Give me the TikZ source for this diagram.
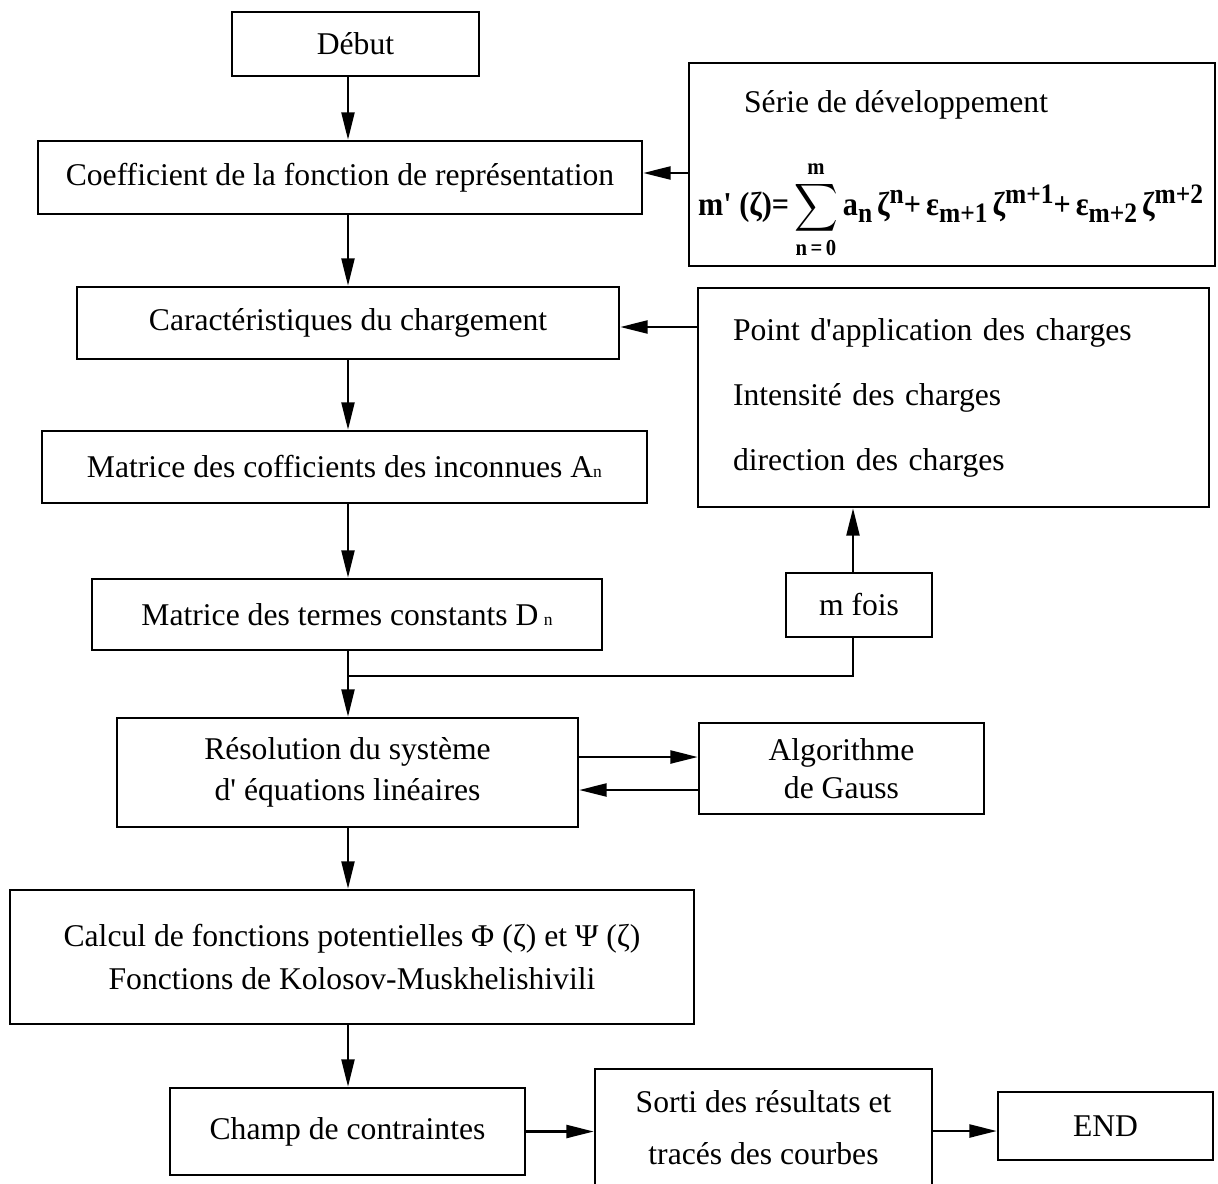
\documentclass[tikz,border=0pt]{standalone}
\usepackage{amsmath,amssymb}
\usepackage{graphicx}
\usepackage{fontspec}
\setmainfont{Liberation Serif}[Ligatures=TeXOff]
\DeclareMathSizes{19}{19}{13}{10}
\usepackage{tikz}
\usetikzlibrary{arrows.meta,positioning,calc}

% raised and lowered indices of the series, nearly full size as in the drawing
\newcommand\fup[1]{\raisebox{7pt}{\fontsize{16}{16}\selectfont #1}}
\newcommand\fdn[1]{\raisebox{-4pt}{\fontsize{16}{16}\selectfont #1}}

\begin{document}
\begin{tikzpicture}[
  box/.style={draw, line width=1.4pt, align=center, inner sep=2pt, font=\fontsize{18}{23}\selectfont},
  flow/.style={line width=1.4pt, -{Triangle[length=5.5mm, width=2.6mm]}},
  link/.style={line width=1.4pt}
]
  \useasboundingbox (0,0) rectangle (24.36,-23.66);
  \coordinate (spine) at (6.96,0);

  % main column
  \node[box, minimum width=4.94cm, minimum height=1.28cm] (debut) at (7.11,-0.88) {Début};
  \node[box, minimum width=12.08cm, minimum height=1.46cm] (coef) at (6.80,-3.55) {Coefficient de la fonction de représentation};
  \node[box, minimum width=10.84cm, minimum height=1.44cm] (caract) at (6.96,-6.46) {Caractéristiques du chargement};
  \node[box, minimum width=12.10cm, minimum height=1.44cm] (mata) at (6.89,-9.34) {Matrice des cofficients des inconnues A{\fontsize{10}{10}\selectfont n}};
  \node[box, minimum width=10.20cm, minimum height=1.42cm] (matd) at (6.94,-12.29) {Matrice des termes constants D\,{\fontsize{10}{10}\selectfont n}};
  \node[box, minimum width=9.22cm, minimum height=2.18cm] (res) at (6.95,-15.45) {Résolution du système\\d' équations linéaires};
  \node[box, minimum width=13.68cm, minimum height=2.68cm, font=\fontsize{18}{24}\selectfont] (calcul) at (7.04,-19.14) {Calcul de fonctions potentielles Φ (ζ) et Ψ (ζ)\\Fonctions de Kolosov-Muskhelishivili};
  \node[box, minimum width=7.10cm, minimum height=1.74cm] (champ) at (6.95,-22.63) {Champ de contraintes};

  % right side
  \node[box, minimum width=10.52cm, minimum height=4.06cm] (serie) at (19.04,-3.29) {};
  \node[anchor=base west, inner sep=0pt, font=\fontsize{18}{23}\selectfont] (serietitre) at ([xshift=1.12cm, yshift=-1.02cm]serie.north west) {Série de développement};
  \node[anchor=base west, inner sep=0pt, font=\fontsize{19}{23}\selectfont\bfseries\boldmath] (seriefml) at ([xshift=0.2cm, yshift=-3.08cm]serie.north west)
    {\resizebox{10.1cm}{\height}{m' (ζ)=\,$\displaystyle\sum_{\text{n\,=\,0}}^{\text{m}}$\,a\fdn{n}\,ζ\fup{n}+\,ε\fdn{m+1}\,ζ\fup{m+1}+\,ε\fdn{m+2}\,ζ\fup{m+2}}};
  \node[box, align=left, text width=8.82cm, inner xsep=0.7cm, minimum height=4.38cm, font=\fontsize{18}{37}\selectfont] (point) at (19.07,-7.95)
    {Point d'application des charges\\Intensité des charges\\direction des charges};
  \node[box, minimum width=2.92cm, minimum height=1.28cm] (mfois) at (17.18,-12.10) {m fois};
  \node[box, minimum width=5.70cm, minimum height=1.82cm, font=\fontsize{18}{22}\selectfont] (gauss) at (16.83,-15.37) {Algorithme\\de Gauss};
  \node[box, minimum width=6.74cm, minimum height=2.34cm, font=\fontsize{18}{30}\selectfont] (sorti) at (15.27,-22.55) {Sorti des résultats et\\tracés des courbes};
  \node[box, minimum width=4.30cm, minimum height=1.36cm] (fin) at (22.11,-22.52) {END};

  % connectors
  \draw[flow] (debut.south -| spine) -- (coef.north -| spine);
  \draw[flow] (coef.south -| spine) -- (caract.north -| spine);
  \draw[flow] (caract.south -| spine) -- (mata.north -| spine);
  \draw[flow] (mata.south -| spine) -- (matd.north -| spine);
  \draw[flow] (matd.south -| spine) -- (res.north -| spine);
  \draw[flow] (res.south -| spine) -- (calcul.north -| spine);
  \draw[flow] (calcul.south -| spine) -- (champ.north -| spine);

  \draw[flow] ([yshift=0.09cm]coef.east -| serie.west) -- ([yshift=0.09cm]coef.east);
  \draw[flow] ([yshift=-0.08cm]caract.east -| point.west) -- ([yshift=-0.08cm]caract.east);
  \draw[flow] ([xshift=-0.12cm]mfois.north) -- ([xshift=-0.12cm]mfois.north |- point.south);
  \coordinate (join) at (6.96,-13.52);
  \draw[link] ([xshift=-0.12cm]mfois.south) |- (join);

  \draw[flow] ([yshift=0.31cm]res.east) -- ([yshift=0.31cm]res.east -| gauss.west);
  \draw[flow] ([yshift=-0.35cm]res.east -| gauss.west) -- ([yshift=-0.35cm]res.east);

  \draw[flow] (champ.east) -- (champ.east -| sorti.west);
  \draw[flow] ([yshift=-0.1cm]fin.west -| sorti.east) -- ([yshift=-0.1cm]fin.west);
\end{tikzpicture}
\end{document}
